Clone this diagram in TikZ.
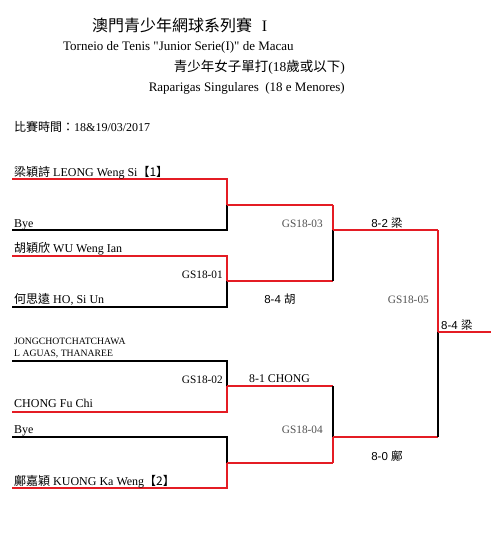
\documentclass[tikz,border=0pt]{standalone}
\usepackage{fontspec}
\setmainfont{Liberation Serif}
\newfontfamily\cjk{Noto Sans CJK TC}
\newfontfamily\arialf{Liberation Sans}
\definecolor{bred}{RGB}{228,28,36}
\definecolor{mgray}{RGB}{80,80,80}
\tikzset{
  wl/.style={line width=1.8pt, bred},
  ll/.style={line width=1.8pt, black},
  pname/.style={anchor=base west, inner sep=0pt, font=\fontsize{12}{14}\selectfont},
  psmall/.style={anchor=base west, inner sep=0pt, font=\fontsize{9.7}{11}\selectfont},
  mcode/.style={anchor=base east, inner sep=0pt, font=\fontsize{11.3}{13}\selectfont},
  gcode/.style={anchor=base east, inner sep=0pt, text=mgray, font=\fontsize{11.3}{13}\selectfont},
  score/.style={anchor=base, inner sep=0pt, font=\arialf\fontsize{11.5}{13}\selectfont},
}
\begin{document}
\begin{tikzpicture}[x=1pt,y=-1pt]
\useasboundingbox (0,0) rectangle (501,557);
\fill[white] (0,0) rectangle (501,557);
% headings
\node[anchor=base west, inner sep=0pt, font=\cjk\fontsize{16}{18}\selectfont] (t1) at (92,31) {澳門青少年網球系列賽\hspace{0.6em}{\rmfamily I}};
\node[anchor=base west, inner sep=0pt, font=\fontsize{13}{15}\selectfont] (t2) at (63,50) {Torneio de Tenis \textquotedbl Junior Serie(I)\textquotedbl\ de Macau};
\node[anchor=base east, inner sep=0pt, font=\fontsize{13.5}{15}\selectfont] (t3) at (345,71) {{\cjk 青少年女子單打}(18{\cjk 歲或以下})};
\node[anchor=base east, inner sep=0pt, font=\fontsize{13}{15}\selectfont] (t4) at (345,91) {Raparigas Singulares\ \ (18 e Menores)};
\node[anchor=base west, inner sep=0pt, font=\fontsize{12}{14}\selectfont] (t5) at (14,131) {{\cjk 比賽時間：}18\&19/03/2017};
% coordinates
\coordinate (a1) at (12,179); \coordinate (a2) at (227,179);
\coordinate (b1) at (12,230); \coordinate (b2) at (227,230);
\coordinate (c1) at (12,256); \coordinate (c2) at (227,256);
\coordinate (d1) at (12,307); \coordinate (d2) at (227,307);
\coordinate (e1) at (12,361); \coordinate (e2) at (227,361);
\coordinate (f1) at (12,412); \coordinate (f2) at (227,412);
\coordinate (g1) at (12,437); \coordinate (g2) at (227,437);
\coordinate (h1) at (12,488); \coordinate (h2) at (227,488);
\coordinate (m1) at (227,205); \coordinate (m1r) at (333,205);
\coordinate (m2) at (227,281); \coordinate (m2r) at (333,281);
\coordinate (m3) at (227,386); \coordinate (m3r) at (333,386);
\coordinate (m4) at (227,463); \coordinate (m4r) at (333,463);
\coordinate (s1) at (333,230); \coordinate (s1r) at (438,230);
\coordinate (s2) at (333,437); \coordinate (s2r) at (438,437);
\coordinate (fm) at (438,332); \coordinate (fe) at (491,332);
% round 1
\draw[wl] (a1) -- (a2) -- (m1);
\draw[ll] (b1) -- (b2) -- (m1);
\draw[wl] (m1) -- (m1r);
\draw[wl] (c1) -- (c2) -- (m2);
\draw[ll] (d1) -- (d2) -- (m2);
\draw[wl] (m2) -- (m2r);
\draw[ll] (e1) -- (e2) -- (m3);
\draw[wl] (f1) -- (f2) -- (m3);
\draw[wl] (m3) -- (m3r);
\draw[ll] (g1) -- (g2) -- (m4);
\draw[wl] (h1) -- (h2) -- (m4);
\draw[wl] (m4) -- (m4r);
% semis
\draw[wl] (m1r) -- (s1);
\draw[ll] (m2r) -- (s1);
\draw[wl] (s1) -- (s1r);
\draw[ll] (m3r) -- (s2);
\draw[wl] (m4r) -- (s2);
\draw[wl] (s2) -- (s2r);
% final
\draw[wl] (s1r) -- (fm);
\draw[ll] (s2r) -- (fm);
\draw[wl] (fm) -- (fe);
% names
\node[pname] (n1) at (14,176) {{\cjk 梁穎詩} LEONG Weng Si{\cjk 【1】}};
\node[pname] (n2) at (14,227) {Bye};
\node[pname] (n3) at (14,252) {{\cjk 胡穎欣} WU Weng Ian};
\node[pname] (n4) at (14,303) {{\cjk 何思遠} HO, Si Un};
\node[psmall] (n5a) at (14,344) {JONGCHOTCHATCHAWA};
\node[psmall] (n5b) at (14,356) {L AGUAS, THANAREE};
\node[pname] (n6) at (14,407) {CHONG Fu Chi};
\node[pname] (n7) at (14,433) {Bye};
\node[pname] (n8) at (14,485) {{\cjk 鄺嘉穎} KUONG Ka Weng{\cjk 【2】}};
% match codes
\node[mcode] (g01) at (223,278) {GS18-01};
\node[mcode] (g02) at (223,383) {GS18-02};
\node[gcode] (g03) at (323,227) {GS18-03};
\node[gcode] (g04) at (323,433) {GS18-04};
\node[gcode] (g05) at (429,303) {GS18-05};
% scores
\node[score] (r1) at (387,227) {8-2 {\cjk 梁}};
\node[score] (r2) at (280,303) {8-4 {\cjk 胡}};
\node[anchor=base west, inner sep=0pt, font=\fontsize{11.8}{13}\selectfont] (r3) at (249,382) {8-1 CHONG};
\node[score] (r4) at (387,460) {8-0 {\cjk 鄺}};
\node[score, anchor=base west] (r5) at (441,329) {8-4 {\cjk 梁}};
\end{tikzpicture}
\end{document}
